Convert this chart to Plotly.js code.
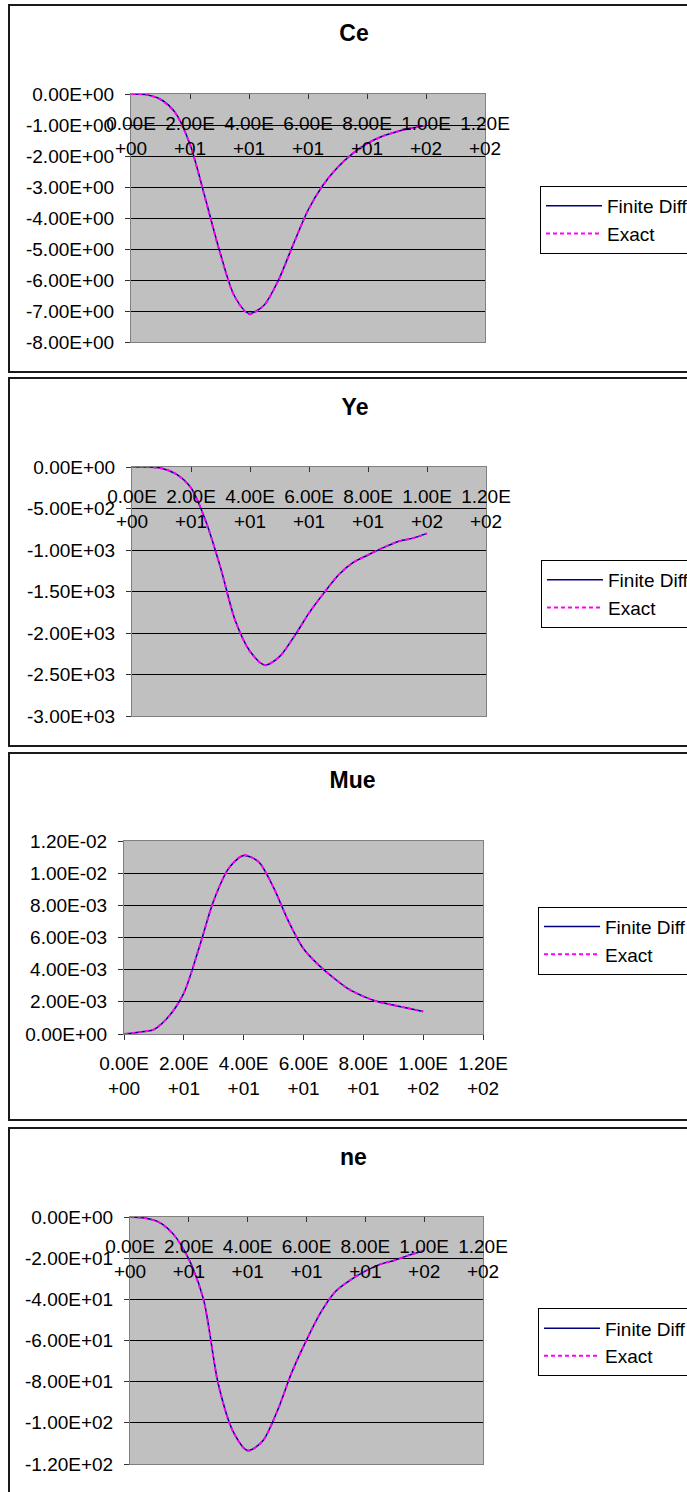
<!DOCTYPE html>
<html>
<head>
<meta charset="utf-8">
<script src="https://cdn.plot.ly/plotly-3.0.1.min.js"></script>
<style>
  html, body { margin: 0; padding: 0; background: #fff; overflow: hidden; width: 687px; height: 1492px; }
  .frame { position: absolute; left: 8px; width: 760px; border: 2px solid #1a1a1a; box-sizing: border-box; pointer-events: none; }
  .plot { position: absolute; left: 0; width: 740px; }
</style>
</head>
<body>
<div id="ce" class="plot"></div>
<div id="ye" class="plot"></div>
<div id="mue" class="plot"></div>
<div id="ne" class="plot"></div>

<script>
// Position along the domain (shared by all four profiles)
const xPos = [0, 5, 10, 15, 20, 25, 30, 35, 40, 45, 50, 55, 60, 65, 70, 75, 80, 85, 90, 95, 100];

// Ce
const ceFinite = [0, -0.02, -0.17, -0.60, -1.62, -3.30, -5.05, -6.50, -7.08, -6.82, -6.00, -4.85, -3.75, -2.95, -2.37, -1.93, -1.60, -1.37, -1.22, -1.10, -1.02];
const ceExact  = [0, -0.02, -0.18, -0.61, -1.63, -3.32, -5.07, -6.51, -7.10, -6.83, -6.01, -4.86, -3.76, -2.95, -2.37, -1.93, -1.60, -1.37, -1.22, -1.10, -1.02];

// Ye
const yeFinite = [0, 0, -15, -85, -250, -650, -1210, -1850, -2220, -2385, -2285, -2040, -1760, -1520, -1300, -1150, -1060, -975, -900, -860, -800];
const yeExact  = [0, 0, -16, -86, -252, -653, -1214, -1853, -2224, -2388, -2287, -2041, -1761, -1521, -1300, -1150, -1060, -975, -900, -860, -800];

// Mue
const mueFinite = [0, 0.00011, 0.00028, 0.0011, 0.00254, 0.0053, 0.0083, 0.0103, 0.0111, 0.0107, 0.0091, 0.0070, 0.0053, 0.0043, 0.0035, 0.0028, 0.00234, 0.0020, 0.0018, 0.0016, 0.0014];
const mueExact  = [0, 0.00011, 0.00029, 0.0011, 0.00255, 0.0053, 0.0083, 0.0103, 0.01112, 0.0107, 0.0091, 0.0070, 0.0053, 0.0043, 0.0035, 0.0028, 0.00234, 0.0020, 0.0018, 0.0016, 0.0014];

// ne
const neFinite = [0, -0.5, -2.6, -8.8, -20.5, -40, -81, -104, -113.4, -109, -94.5, -75.5, -59.8, -46, -36, -30.5, -26.3, -23, -21, -18.5, -16.3];
const neExact  = [0, -0.5, -2.7, -8.9, -20.7, -40.3, -81.3, -104.2, -113.6, -109.1, -94.6, -75.5, -59.8, -46, -36, -30.5, -26.3, -23, -21, -18.5, -16.3];

// Tick values and labels
const xTickVals = [0, 20, 40, 60, 80, 100, 120];
const xTickText = ['0.00E<br>+00', '2.00E<br>+01', '4.00E<br>+01', '6.00E<br>+01', '8.00E<br>+01', '1.00E<br>+02', '1.20E<br>+02'];

const ceTickVals = [0, -1, -2, -3, -4, -5, -6, -7, -8];
const ceTickText = ['0.00E+00', '-1.00E+00', '-2.00E+00', '-3.00E+00', '-4.00E+00', '-5.00E+00', '-6.00E+00', '-7.00E+00', '-8.00E+00'];

const yeTickVals = [0, -500, -1000, -1500, -2000, -2500, -3000];
const yeTickText = ['0.00E+00', '-5.00E+02', '-1.00E+03', '-1.50E+03', '-2.00E+03', '-2.50E+03', '-3.00E+03'];

const mueTickVals = [0, 0.002, 0.004, 0.006, 0.008, 0.010, 0.012];
const mueTickText = ['0.00E+00', '2.00E-03', '4.00E-03', '6.00E-03', '8.00E-03', '1.00E-02', '1.20E-02'];

const neTickVals = [0, -20, -40, -60, -80, -100, -120];
const neTickText = ['0.00E+00', '-2.00E+01', '-4.00E+01', '-6.00E+01', '-8.00E+01', '-1.00E+02', '-1.20E+02'];

const seriesNames = ['Finite Diff', 'Exact'];

const FONT = 'Arial, "Liberation Sans", sans-serif';
const PAGE_W = 740;

// Page geometry of each panel: frame top/bottom, plot area [left, right, top, bottom],
// legend top-left corner, title centre.
const panels = [
  { id: 'ce',  title: 'Ce',  fd: ceFinite,  ex: ceExact,  yVals: ceTickVals,  yText: ceTickText,  yRange: [-8, 0],
    box: [4, 373],     plot: [130.6, 485.5, 94, 342],     legend: [540, 186],    titlePos: [354, 33],    xSide: 'top' },
  { id: 'ye',  title: 'Ye',  fd: yeFinite,  ex: yeExact,  yVals: yeTickVals,  yText: yeTickText,  yRange: [-3000, 0],
    box: [377, 747],   plot: [131.5, 486.4, 467.3, 716],  legend: [541, 560],    titlePos: [355, 406.7], xSide: 'top' },
  { id: 'mue', title: 'Mue', fd: mueFinite, ex: mueExact, yVals: mueTickVals, yText: mueTickText, yRange: [0, 0.012],
    box: [752, 1121],  plot: [124, 483.4, 841, 1034.3],   legend: [538, 906.7],  titlePos: [352.5, 780], xSide: 'bottom' },
  { id: 'ne',  title: 'ne',  fd: neFinite,  ex: neExact,  yVals: neTickVals,  yText: neTickText,  yRange: [-120, 0],
    box: [1127, 1496], plot: [130.1, 483.4, 1216.7, 1464], legend: [538, 1308.3], titlePos: [353.4, 1156.7], xSide: 'top' }
];

panels.forEach(p => {
  const h = p.box[1] - p.box[0];
  const div = document.getElementById(p.id);
  div.style.top = p.box[0] + 'px';
  div.style.height = h + 'px';

  const frame = document.createElement('div');
  frame.className = 'frame';
  frame.style.top = p.box[0] + 'px';
  frame.style.height = h + 'px';
  document.body.appendChild(frame);

  const traces = [
    { x: xPos, y: p.fd, name: seriesNames[0], type: 'scatter', mode: 'lines',
      line: { color: '#000080', width: 1.5, shape: 'spline', smoothing: 0.8 } },
    { x: xPos, y: p.ex, name: seriesNames[1], type: 'scatter', mode: 'lines',
      line: { color: '#FF00FF', width: 2, dash: '4px,3px', shape: 'spline', smoothing: 0.8 } }
  ];

  const topAxis = p.xSide === 'top';

  const layout = {
    width: PAGE_W,
    height: h,
    margin: { l: p.plot[0], r: PAGE_W - p.plot[1], t: p.plot[2] - p.box[0], b: p.box[1] - p.plot[3], pad: 0 },
    paper_bgcolor: 'rgba(0,0,0,0)',
    plot_bgcolor: '#C0C0C0',
    font: { family: FONT, size: 19, color: '#000' },
    title: {
      text: p.title,
      font: { family: FONT, size: 23, weight: 'bold', color: '#000' },
      xref: 'container', x: p.titlePos[0] / PAGE_W, xanchor: 'center',
      yref: 'container', y: 1 - (p.titlePos[1] - p.box[0]) / h, yanchor: 'middle'
    },
    xaxis: {
      range: [0, 120],
      tickmode: 'array', tickvals: xTickVals, ticktext: xTickText,
      side: p.xSide,
      ticks: topAxis ? 'inside' : 'outside',
      ticklen: 5, tickwidth: 1, tickcolor: '#333',
      ticklabelposition: topAxis ? 'inside' : 'outside',
      ticklabelstandoff: topAxis ? 19 : 7,
      ticklabeloverflow: 'allow',
      tickangle: 0,
      tickfont: { family: FONT, size: 19, color: '#000' },
      showline: true, linecolor: '#808080', linewidth: 1, mirror: true,
      showgrid: false, zeroline: false, fixedrange: true
    },
    yaxis: {
      range: p.yRange,
      tickmode: 'array', tickvals: p.yVals, ticktext: p.yText,
      ticks: 'outside', ticklen: 5, tickwidth: 1, tickcolor: '#333',
      ticklabelstandoff: 7,
      tickfont: { family: FONT, size: 19, color: '#000' },
      showline: true, linecolor: '#808080', linewidth: 1, mirror: true,
      showgrid: true, gridcolor: '#000', gridwidth: 1,
      zeroline: false, fixedrange: true
    },
    showlegend: true,
    legend: {
      xref: 'container', yref: 'container',
      x: p.legend[0] / PAGE_W, xanchor: 'left',
      y: 1 - (p.legend[1] - p.box[0]) / h, yanchor: 'top',
      bgcolor: '#fff', bordercolor: '#000', borderwidth: 1,
      font: { family: FONT, size: 19, color: '#000' },
      itemwidth: 56
    }
  };

  Plotly.newPlot(div, traces, layout, { displayModeBar: false, staticPlot: true });
});
</script>
</body>
</html>
